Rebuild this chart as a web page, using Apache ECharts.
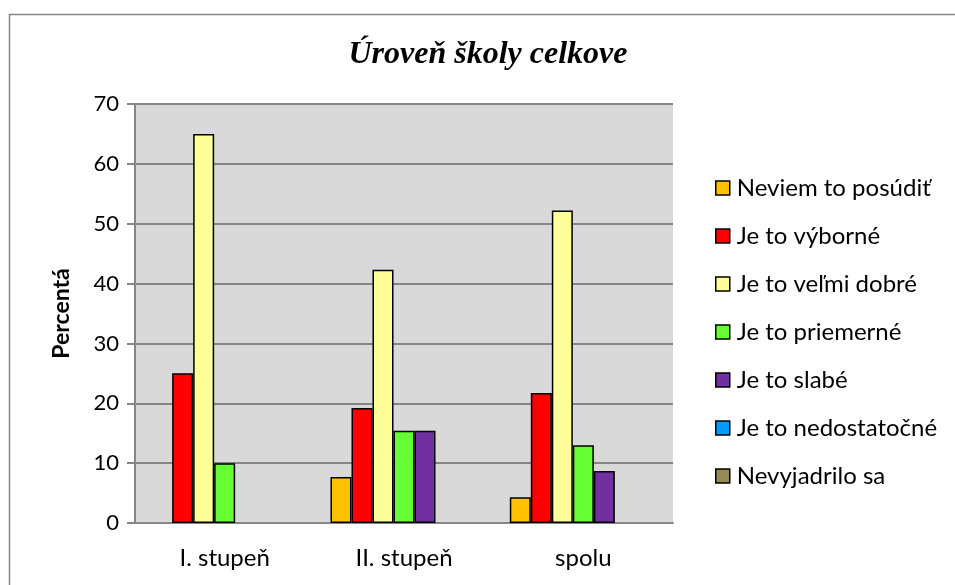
<!DOCTYPE html>
<html>
<head>
<meta charset="utf-8">
<script src="https://cdn.jsdelivr.net/npm/echarts@6/dist/echarts.min.js"></script>
<style>
    html, body { margin: 0; padding: 0; background: #fff; }
    #chart { width: 955px; height: 585px; }
</style>
</head>
<body>
<div id="chart"></div>
<script>
    var categories = ['I. stupeň', 'II. stupeň', 'spolu'];
    var seriesNames = ['Neviem to posúdiť', 'Je to výborné', 'Je to veľmi dobré', 'Je to priemerné',
        'Je to slabé', 'Je to nedostatočné', 'Nevyjadrilo sa'];
    var neviem = [0, 7.7, 4.3];
    var vyborne = [25, 19.2, 21.7];
    var velmiDobre = [65, 42.3, 52.2];
    var priemerne = [10, 15.4, 13.0];
    var slabe = [0, 15.4, 8.7];
    var nedostatocne = [0, 0, 0];
    var nevyjadrilo = [0, 0, 0];
    var colors = ['#FFC000', '#FF0000', '#FFFF99', '#66FF33', '#7030A0', '#0099FF', '#948A54'];

    var values = [neviem, vyborne, velmiDobre, priemerne, slabe, nedostatocne, nevyjadrilo];
    var font = 'Lato, "Noto Sans", sans-serif';

    var chart = echarts.init(document.getElementById('chart'));

    // zero bars are not drawn at all (no outline) in the original
    var series = seriesNames.map(function (name, i) {
        return {
            name: name,
            type: 'bar',
            data: values[i].map(function (v) { return v === 0 ? '-' : v; }),
            barGap: '0%',
            barCategoryGap: '18%',
            itemStyle: {
                color: colors[i],
                borderColor: '#000',
                borderWidth: 1.5
            }
        };
    });

    var option = {
        animation: false,
        color: colors,
        textStyle: { fontFamily: font, color: '#000' },
        graphic: [{
            type: 'rect',
            shape: { x: 9.5, y: 14.5, width: 1000, height: 1000 },
            style: { fill: 'none', stroke: '#868686', lineWidth: 1.5 },
            silent: true
        }],
        title: {
            text: 'Úroveň školy celkove',
            left: 483,
            textAlign: 'center',
            top: 34,
            textStyle: {
                fontFamily: '"Liberation Serif", "Times New Roman", serif',
                fontStyle: 'italic',
                fontWeight: 'bold',
                fontSize: 32,
                color: '#000'
            }
        },
        legend: {
            orient: 'vertical',
            left: 710,
            top: 171,
            itemWidth: 14,
            itemHeight: 14,
            itemGap: 24,
            icon: 'rect',
            itemStyle: { borderColor: '#000', borderWidth: 1.5 },
            textStyle: { fontFamily: font, fontSize: 24, color: '#000', padding: [0, 0, 0, 2] },
            data: seriesNames
        },
        grid: {
            left: 135,
            top: 104,
            right: 282,
            bottom: 62,
            show: true,
            backgroundColor: '#D9D9D9',
            borderWidth: 0
        },
        xAxis: {
            type: 'category',
            data: categories,
            axisLine: { lineStyle: { color: '#868686', width: 2 } },
            axisTick: { show: false },
            axisLabel: { fontFamily: font, fontSize: 24, color: '#000', margin: 23 }
        },
        yAxis: {
            type: 'value',
            min: 0,
            max: 70,
            interval: 10,
            name: 'Percentá',
            nameLocation: 'middle',
            nameGap: 62,
            nameTextStyle: { fontFamily: font, fontSize: 23, fontWeight: 'bold', color: '#000' },
            axisLine: { show: true, lineStyle: { color: '#868686', width: 2 } },
            axisTick: { show: true, length: 8, lineStyle: { color: '#868686', width: 2 } },
            axisLabel: { fontFamily: font, fontSize: 22, color: '#000', margin: 16 },
            splitLine: { lineStyle: { color: '#868686', width: 2 } }
        },
        series: series
    };
    chart.setOption(option);
</script>
</body>
</html>
